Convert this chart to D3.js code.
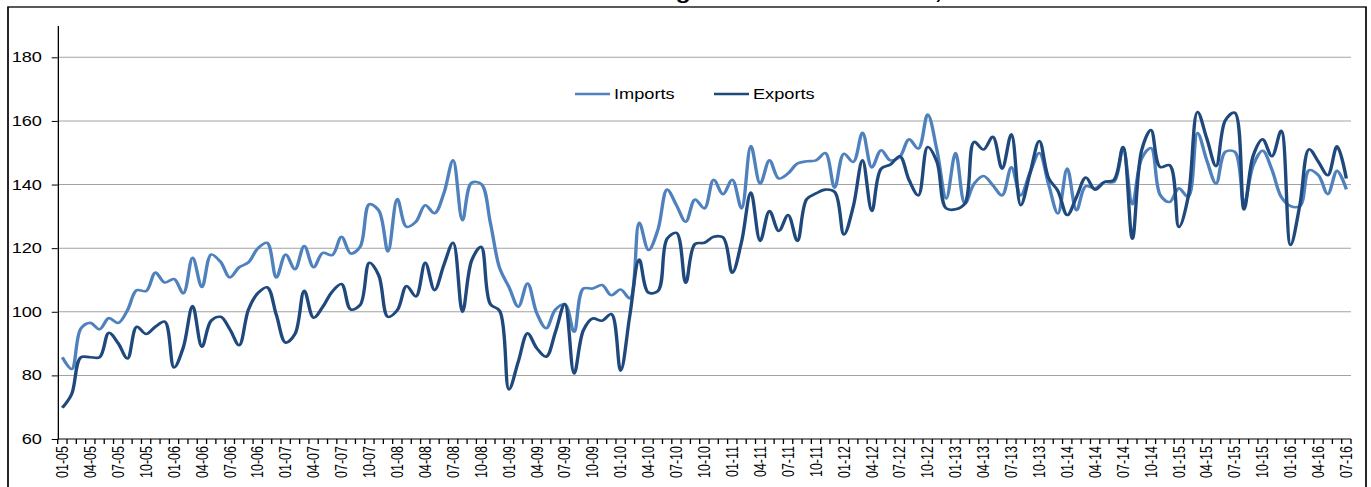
<!DOCTYPE html>
<html>
<head>
<meta charset="utf-8">
<script src="https://cdn.jsdelivr.net/npm/d3@7"></script>
<style>
  body { margin: 0; background: #fff; }
  svg { display: block; }
  text { font-family: Arial, "Liberation Sans", sans-serif; fill: #000; }
</style>
</head>
<body>
<script>
// monthly categories Jan 2005 .. Jul 2016
var years = ["05", "06", "07", "08", "09", "10", "11", "12", "13", "14", "15", "16"];
var months = ["01", "02", "03", "04", "05", "06", "07", "08", "09", "10", "11", "12"];
var labelMonths = ["01", "04", "07", "10"];
var lastMonth = "07-16";

var imports = [
  85.7, 82, 94.8, 96.5, 94.5, 98, 96.5, 100.5, 106.8, 106.5, 112.3, 109.2,
  110.3, 105.8, 117, 107.8, 118, 115.7, 110.8, 114, 115.5, 119.9, 121.7, 110.8,
  118, 113.4, 120.7, 114, 118.5, 117.8, 123.6, 118.3, 120.4, 133.8, 131.9, 119,
  135.4, 126.7, 128.3, 133.5, 131, 137.2, 147.6, 128.8, 140.6, 140.2, 128, 113.7,
  107.8, 101.6, 108.9, 99.5, 94.8, 100.7, 102.4, 93.7, 107.3, 107.3, 108.4, 105.2,
  107, 104.2, 128, 119.4, 125.7, 138.4, 133.5, 128.3, 135.3, 132.5, 141.5, 137,
  141.5, 132.5, 152.1, 140.3, 147.6, 141.9, 143.5, 146.6, 147.3, 147.6, 149.9, 139,
  149.7, 147.1, 156.3, 145.4, 150.8, 147.6, 148.7, 154.2, 151.3, 162, 150.8, 135.6,
  149.9, 134, 140.3, 142.7, 139.8, 136.6, 145.4, 136.6, 143.7, 149.9, 140, 130.9,
  145, 131.9, 139.5, 138.8, 140.8, 140.8, 151.3, 133.8, 148.2, 151.5, 136.7, 134.5,
  138.8, 136.1, 156.2, 147.6, 140.3, 150.3, 150.3, 134, 146.1, 150.6, 144.7, 136.1,
  133.2, 133.2, 144.5, 142.9, 137, 144.3, 138.5
];

var exports = [
  69.8, 74.1, 85.7, 85.7, 85.7, 93.4, 90.1, 85.3, 95.3, 93, 95.3, 96.9,
  82.5, 88.8, 101.8, 89, 97.2, 98.4, 94.5, 89.5, 100.7, 105.8, 107.7, 99,
  90.3, 93, 106.6, 98.1, 101.6, 106.3, 108.7, 100.7, 102.1, 115.4, 111.5, 98.4,
  100.5, 108.1, 104.8, 115.4, 106.8, 114.7, 121.7, 100, 116.2, 120.4, 102.4, 100.3,
  75.6, 84.3, 93.2, 88.5, 85.9, 93.7, 102.4, 80.6, 94.2, 97.9, 97.2, 99.3,
  81.5, 99, 116.4, 106, 106.5, 123, 124.8, 109.1, 121.3, 121.7, 123.6, 123.4,
  112.3, 122, 137.5, 122.3, 131.7, 125.4, 130.4, 122.3, 135.4, 137.2, 138.4, 137.7,
  124.3, 133, 147.6, 131.7, 145, 146.3, 148.9, 141.4, 136.6, 151.8, 147.1, 132.5,
  132.2, 134, 153.4, 151, 155, 145, 155.8, 133.5, 143.5, 153.7, 142, 138,
  130.4, 136.1, 142.2, 138.4, 140.8, 141.4, 151.8, 123, 150.8, 157.1, 145.5, 146.1,
  126.7, 136.1, 162.8, 154.5, 145.8, 160.2, 162.6, 132.2, 149.2, 154.2, 148.9, 156.9,
  121, 133.5, 151.1, 147.1, 142.9, 152, 141.9
];

var yTicks = [60, 80, 100, 120, 140, 160, 180];
var yDomain = [60, 190];

var categories = [];
years.forEach(function(yr) {
    months.forEach(function(m) {
        if (categories.length && categories[categories.length - 1] === lastMonth) return;
        categories.push(m + "-" + yr);
    });
});

var width = 1371, height = 487;
var K = 1.3; // the reference is stretched horizontally
var iw = width / K;
function sx(v) { return v / K; }

var svg = d3.select("body").append("svg")
    .attr("width", width)
    .attr("height", height)
    .attr("viewBox", "0 0 " + iw + " " + height)
    .attr("preserveAspectRatio", "none");

// title, cut off by the top of the picture as in the reference
svg.append("text")
    .attr("x", sx(574))
    .attr("y", -1.5)
    .style("font-size", "19px")
    .style("font-weight", "bold")
    .text("Trade in goods volume indices, 2005 = 100");

// outer frame
svg.append("rect")
    .attr("x", sx(8)).attr("y", 7)
    .attr("width", sx(1366) - sx(8)).attr("height", 500)
    .attr("fill", "none").attr("stroke", "#000").attr("stroke-width", 1.3);

var x = d3.scaleBand().domain(categories).range([sx(57.7), sx(1351)]);
var y = d3.scaleLinear().domain(yDomain).range([439, 25.5]);

// gridlines
svg.append("g").selectAll("line")
    .data(yTicks.filter(function(d) { return d > yDomain[0]; }))
    .enter().append("line")
    .attr("x1", x.range()[0]).attr("x2", x.range()[1])
    .attr("y1", function(d) { return y(d); })
    .attr("y2", function(d) { return y(d); })
    .attr("stroke", "#a3a3a3").attr("stroke-width", 1);

// y axis
var yAxis = svg.append("g")
    .attr("transform", "translate(" + x.range()[0] + ",0)")
    .call(d3.axisLeft(y).tickValues(yTicks).tickSize(4.6).tickPadding(7.5).tickSizeOuter(0));
yAxis.selectAll("text").style("font-size", "14px").attr("fill", "#000");
yAxis.selectAll("line, path").attr("stroke", "#000");

// x axis
var xAxis = svg.append("g").attr("transform", "translate(0," + y(yDomain[0]) + ")");
xAxis.append("line")
    .attr("x1", x.range()[0]).attr("x2", x.range()[1])
    .attr("stroke", "#000");
xAxis.selectAll("line.tick")
    .data(d3.range(categories.length + 1))
    .enter().append("line")
    .attr("class", "tick")
    .attr("x1", function(i) { return x.range()[0] + i * x.step(); })
    .attr("x2", function(i) { return x.range()[0] + i * x.step(); })
    .attr("y1", 0).attr("y2", 5)
    .attr("stroke", "#000");
xAxis.selectAll("text")
    .data(categories.filter(function(c) { return labelMonths.indexOf(c.slice(0, 2)) >= 0; }))
    .enter().append("text")
    .attr("transform", function(d) {
        return "translate(" + (x(d) + x.bandwidth() / 2) + ",7) rotate(-90)";
    })
    .attr("text-anchor", "end")
    .attr("dy", "0.35em")
    .style("font-size", "12.5px")
    .text(function(d) { return d; });

// lines
var line = d3.line()
    .x(function(d, i) { return x(categories[i]) + x.bandwidth() / 2; })
    .y(function(d) { return y(d); })
    .curve(d3.curveCatmullRom.alpha(0.5));

var series = [
    { name: "Imports", values: imports, color: "#4f81bd", lx: 575 },
    { name: "Exports", values: exports, color: "#1f497d", lx: 714 }
];

svg.selectAll("path.series")
    .data(series)
    .enter().append("path")
    .attr("class", "series")
    .attr("d", function(d) { return line(d.values); })
    .attr("fill", "none")
    .attr("stroke", function(d) { return d.color; })
    .attr("stroke-width", 2.6)
    .attr("stroke-linejoin", "round");

// legend
var legend = svg.selectAll("g.legend")
    .data(series)
    .enter().append("g")
    .attr("class", "legend");
legend.append("line")
    .attr("x1", function(d) { return sx(d.lx); })
    .attr("x2", function(d) { return sx(d.lx + 35); })
    .attr("y1", 94).attr("y2", 94)
    .attr("stroke", function(d) { return d.color; })
    .attr("stroke-width", 2.6);
legend.append("text")
    .attr("x", function(d) { return sx(d.lx + 39); })
    .attr("y", 94)
    .attr("dy", "0.35em")
    .style("font-size", "14px")
    .text(function(d) { return d.name; });
</script>
</body>
</html>
